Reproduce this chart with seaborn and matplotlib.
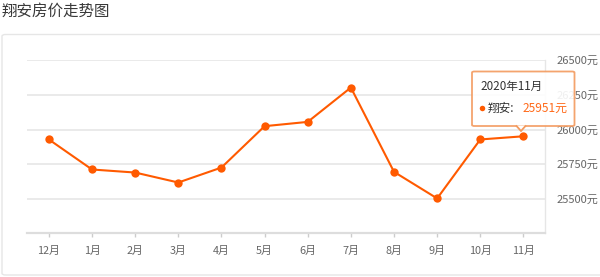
import matplotlib
matplotlib.use("Agg")
import matplotlib.pyplot as plt
import seaborn as sns
import pandas as pd
from matplotlib.patches import FancyBboxPatch, Polygon, Ellipse

months = ["12月", "1月", "2月", "3月", "4月", "5月", "6月", "7月", "8月", "9月", "10月", "11月"]
prices = [25928, 25711, 25689, 25617, 25725, 26024, 26055, 26303, 25694, 25502, 25928, 25951]
y_ticks = [25500, 25750, 26000, 26250, 26500]
series_name = "翔安"
tip_period = "2020年11月"

sns.set_theme(style="white")
plt.rcParams['font.family'] = ['Noto Sans CJK SC', 'DejaVu Sans']

W, H = 600, 277
fig = plt.figure(figsize=(W / 100, H / 100), dpi=100)

def px(x, y):
    return x / W, 1 - y / H

# card border
card = FancyBboxPatch(px(2, 275), (620 - 2) / W, (275 - 34.5) / H,
                      boxstyle="round,pad=0,rounding_size=0.006",
                      transform=fig.transFigure, fill=False,
                      edgecolor="#e6e6e6", linewidth=1.0, zorder=0)
fig.patches.append(card)

fig.text(2 / W, 1 - 11.5 / H, "翔安房价走势图", fontsize=11.2, color="#3a3a3a",
         va="center", ha="left")

left, right, top, bottom = 27.3, 545, 60.3, 233.3
ax = fig.add_axes([left / W, 1 - bottom / H, (right - left) / W, (bottom - top) / H])

df = pd.DataFrame({"month": months, "price": prices})
sns.lineplot(data=df, x="month", y="price", ax=ax, color="#ff5a00",
             linewidth=1.5, marker="o", markersize=6, markeredgewidth=0,
             sort=False, zorder=5)

ax.set_xlim(-0.5, len(months) - 0.5)
ax.set_ylim(25250, 26500)
ax.set_xlabel("")
ax.set_ylabel("")
ax.set_yticks(y_ticks)
ax.set_yticklabels([f"{v}元" for v in y_ticks])
ax.yaxis.tick_right()
ax.tick_params(axis="y", length=0, pad=8, labelsize=8, labelcolor="#666666")
ax.tick_params(axis="x", length=3, width=1, color="#cccccc", pad=6,
               labelsize=7.8, labelcolor="#666666", bottom=True)
ax.grid(axis="y", color="#e8e8e8", linewidth=1.3)
ax.set_axisbelow(True)
for s in ["left", "top"]:
    ax.spines[s].set_visible(False)
ax.spines["right"].set_color("#e6e6e6")
ax.spines["right"].set_linewidth(1.0)
ax.spines["bottom"].set_color("#dddddd")
ax.spines["bottom"].set_linewidth(1.6)

# tooltip
x0, x1, y0, y1 = 472, 574.5, 71.5, 126
tip_x = 521
box = FancyBboxPatch(px(x0, y1), (x1 - x0) / W, (y1 - y0) / H,
                     boxstyle="round,pad=0,rounding_size=0.004",
                     transform=fig.transFigure, facecolor="white", alpha=0.9,
                     edgecolor="#f39a5e", linewidth=1.3, zorder=10)
fig.patches.append(box)
tri = Polygon([px(tip_x - 5, y1 - 0.6), px(tip_x, 131), px(tip_x + 5, y1 - 0.6)],
              closed=False, transform=fig.transFigure, facecolor="white",
              edgecolor="#f39a5e", linewidth=1.3, zorder=11)
fig.patches.append(tri)
fig.text(*px(480, 86), tip_period, fontsize=8.4, color="#333333",
         va="center", ha="left", zorder=12)
dot = Ellipse(px(482.5, 108.5), 5.5 / W, 5.5 / H, transform=fig.transFigure,
              facecolor="#ff5a00", edgecolor="none", zorder=12)
fig.patches.append(dot)
fig.text(*px(488, 108), f"{series_name}:", fontsize=8.4, color="#333333",
         va="center", ha="left", zorder=12)
fig.text(*px(523, 108), f"{prices[-1]}元", fontsize=8.6, color="#ff6a1a",
         va="center", ha="left", zorder=12)

fig.savefig("out.png", dpi=100)
